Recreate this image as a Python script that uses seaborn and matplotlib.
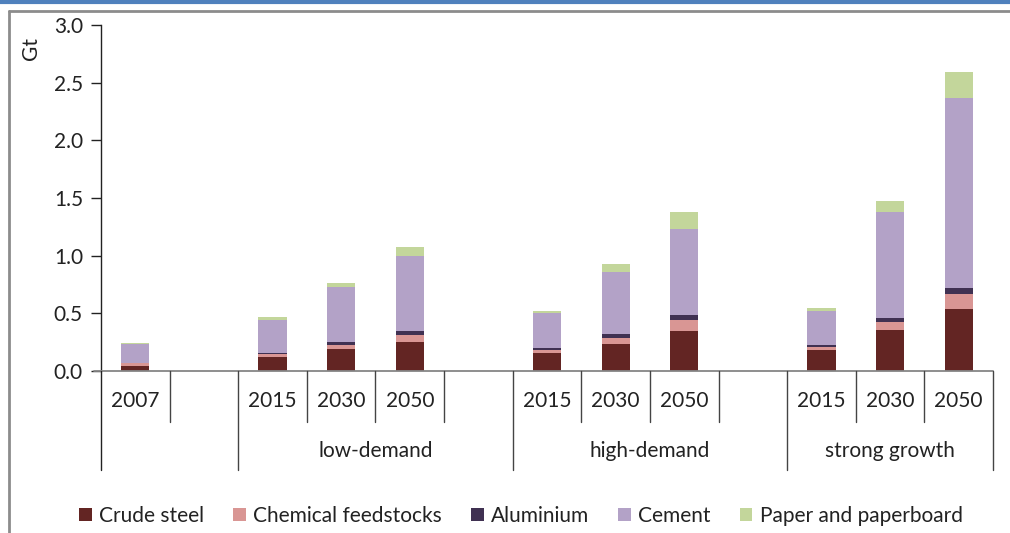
import matplotlib
matplotlib.use("Agg")
import matplotlib.pyplot as plt
from matplotlib.lines import Line2D
from matplotlib.patches import Patch
import numpy as np
import pandas as pd
import seaborn as sns

# Bar slots along the axis (blank slots separate the scenario groups)
slots = ["2007", "gap1", "low 2015", "low 2030", "low 2050", "gap2",
         "high 2015", "high 2030", "high 2050", "gap3",
         "strong 2015", "strong 2030", "strong 2050"]
year_labels = ["2007", "", "2015", "2030", "2050", "",
               "2015", "2030", "2050", "", "2015", "2030", "2050"]
groups = ["low-demand", "high-demand", "strong growth"]

# Bars with data (blank slots have none)
bar_slots = ["2007", "low 2015", "low 2030", "low 2050",
             "high 2015", "high 2030", "high 2050",
             "strong 2015", "strong 2030", "strong 2050"]

# Production by material, Gt
crude_steel = [0.040, 0.121, 0.188, 0.255, 0.160, 0.238, 0.344, 0.180, 0.353, 0.541]
chemical_feedstocks = [0.027, 0.030, 0.037, 0.057, 0.026, 0.048, 0.098, 0.028, 0.069, 0.127]
aluminium = [0.004, 0.005, 0.024, 0.032, 0.013, 0.032, 0.041, 0.015, 0.038, 0.049]
cement = [0.160, 0.290, 0.477, 0.653, 0.304, 0.544, 0.749, 0.301, 0.919, 1.654]
paper = [0.012, 0.020, 0.037, 0.078, 0.017, 0.069, 0.144, 0.020, 0.095, 0.222]

series_names = ["Crude steel", "Chemical feedstocks", "Aluminium", "Cement",
                "Paper and paperboard"]
series_values = [crude_steel, chemical_feedstocks, aluminium, cement, paper]
colors = ["#632523", "#d99694", "#403152", "#b3a2c7", "#c3d69b"]

W, H = 1010, 533
fig = plt.figure(figsize=(W / 100, H / 100), dpi=100)
sns.set_style("white")
plt.rcParams["font.family"] = ["Lato", "DejaVu Sans"]
fs = 15
tc = "#222222"

def fx(px):
    return px / W

def fy(py):
    return 1 - py / H

ax = fig.add_axes([fx(101), fy(371), fx(993) - fx(101), fy(25) - fy(371)])

df = pd.DataFrame({"slot": bar_slots})
for name, vals in zip(series_names, series_values):
    df[name] = vals
cum = df[series_names].cumsum(axis=1)

# Stacked bars: draw cumulative totals from the top segment down
for name, col in reversed(list(zip(series_names, colors))):
    sns.barplot(data=pd.DataFrame({"slot": df["slot"], "v": cum[name]}),
                x="slot", y="v", order=slots, color=col, width=0.41,
                saturation=1, ax=ax, linewidth=0, zorder=2)

ax.set_xlim(-0.5, len(slots) - 0.5)
ax.set_ylim(0, 3.0)
ax.set_yticks(np.arange(0, 3.01, 0.5))
ax.set_yticklabels([f"{v:.1f}" for v in np.arange(0, 3.01, 0.5)], fontsize=fs, color=tc)
ax.set_xticks([])
ax.set_xlabel("")
ax.set_ylabel("")
for s in ["top", "right", "bottom"]:
    ax.spines[s].set_visible(False)
ax.spines["left"].set_color("#222222")
ax.spines["left"].set_linewidth(1.0)
ax.tick_params(axis="y", direction="out", length=7, width=1, color="#222222",
               left=True, pad=6)

# Category axis: baseline, separators and two label rows
ax_x0, ax_x1 = 101, 993
slot_w = (ax_x1 - ax_x0) / len(slots)
axis_col = "#868686"
fig.add_artist(Line2D([fx(94), fx(993)], [fy(371), fy(371)], color=axis_col, lw=1.3))
long_edges = {0, 2, 6, 10, 13}
for i in range(len(slots) + 1):
    xp = ax_x0 + i * slot_w
    bottom = 470 if i in long_edges else 422
    col = "#222222" if i == 0 else "#444444"
    fig.add_artist(Line2D([fx(xp), fx(xp)], [fy(371), fy(bottom)], color=col, lw=1.0))
for i, lab in enumerate(year_labels):
    if lab:
        fig.text(fx(ax_x0 + (i + 0.5) * slot_w), fy(401), lab, ha="center",
                 va="center", fontsize=fs, color=tc)
group_spans = [(2, 6), (6, 10), (10, 13)]
for g, (a, b) in zip(groups, group_spans):
    fig.text(fx(ax_x0 + (a + b) / 2 * slot_w), fy(451), g, ha="center",
             va="center", fontsize=fs, color=tc)

fig.text(fx(31), fy(48), "Gt", rotation=90, ha="center", va="center",
         fontsize=fs, color=tc)

# Legend
handles = [Patch(facecolor=c, edgecolor="none", label=n)
           for n, c in zip(series_names, colors)]
fig.legend(handles=handles, loc="center", bbox_to_anchor=(fx(521), fy(516)),
           ncol=5, frameon=False, fontsize=fs, handlelength=0.6, handleheight=0.6,
           handletextpad=0.35, columnspacing=1.4, labelcolor=tc)

# Chart frame
fig.add_artist(Line2D([0, 1], [fy(1.5), fy(1.5)], color="#4f81bd", lw=3))
fig.add_artist(Line2D([fx(9), 1], [fy(11), fy(11)], color="#8c8c8c", lw=2))
fig.add_artist(Line2D([fx(9), fx(9)], [fy(11), 0], color="#8c8c8c", lw=2))

fig.savefig("out.png", dpi=100)
